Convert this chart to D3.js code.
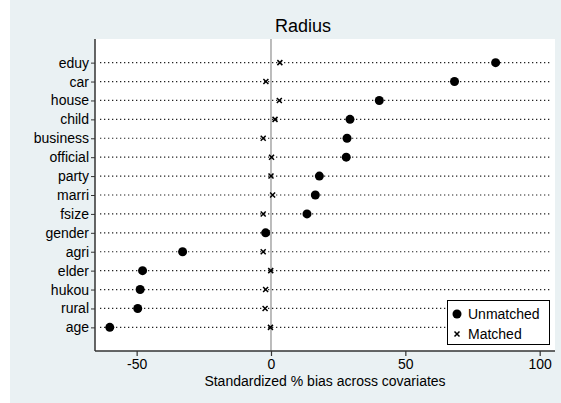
<!DOCTYPE html>
<html>
<head>
<meta charset="utf-8">
<script src="https://cdn.jsdelivr.net/npm/d3@7"></script>
<style>
  html, body { margin: 0; padding: 0; background: #ffffff; }
  svg { display: block; font-family: "Liberation Sans", Arial, Helvetica, sans-serif; }
</style>
</head>
<body>
<svg id="chart" width="561" height="403"></svg>
<script>
const categories = ["eduy","car","house","child","business","official","party","marri","fsize","gender","agri","elder","hukou","rural","age"];
const unmatched = [83.6, 68.3, 40.3, 29.4, 28.3, 28.0, 18.0, 16.5, 13.4, -2.0, -32.9, -47.8, -48.7, -49.6, -60.0];
const matched   = [3.3, -1.9, 3.1, 1.5, -2.9, 0.2, 0.0, 0.6, -2.9, -1.5, -2.9, -0.1, -2.0, -2.2, -0.2];
const xTicks = [-50, 0, 50, 100];
const titleText = "Radius";
const xTitle = "Standardized % bias across covariates";
const legendLabels = ["Unmatched", "Matched"];

const svg = d3.select("#chart");
const W = 561, H = 403;
const plot = {left: 95, right: 555, top: 39, bottom: 351};

// backgrounds
svg.append("rect").attr("x", 0).attr("y", 0).attr("width", W).attr("height", H).attr("fill", "#ffffff");
svg.append("rect").attr("x", 10).attr("y", 0).attr("width", W - 10).attr("height", H).attr("fill", "#eaf1f3");
svg.append("rect").attr("x", plot.left).attr("y", plot.top)
  .attr("width", plot.right - plot.left).attr("height", plot.bottom - plot.top).attr("fill", "#ffffff");

const x = d3.scaleLinear().domain([-65.5, 105.7]).range([plot.left, plot.right]);
const y = d3.scalePoint().domain(categories).range([plot.top, plot.bottom]).padding(1.25);

// dotted guide lines
svg.append("g").selectAll("line").data(categories).join("line")
  .attr("x1", plot.left + 5).attr("x2", plot.right - 4)
  .attr("y1", d => y(d)).attr("y2", d => y(d))
  .attr("stroke", "#222").attr("stroke-width", 1.2)
  .attr("stroke-dasharray", "1.3,2.7");

// zero reference line
svg.append("line").attr("x1", x(0)).attr("x2", x(0))
  .attr("y1", plot.top).attr("y2", plot.bottom)
  .attr("stroke", "#a6a6a6").attr("stroke-width", 1.5);

// x axis
const xAxis = d3.axisBottom(x).tickValues(xTicks).tickSize(5).tickPadding(3)
  .tickFormat(d => d < 0 ? "-" + Math.abs(d) : String(d));
const gx = svg.append("g").attr("transform", `translate(0,${plot.bottom})`).call(xAxis);
gx.select(".domain").attr("d", `M${plot.left},0H${plot.right}`).attr("stroke", "#333").attr("stroke-width", 1.3);
gx.selectAll(".tick line").attr("stroke", "#333").attr("stroke-width", 1.2);
gx.selectAll(".tick text").attr("fill", "#000").attr("font-size", 14)
  .attr("font-family", '"Liberation Sans", Arial, sans-serif');

// y axis
const yAxis = d3.axisLeft(y).tickSize(4).tickPadding(2);
const gy = svg.append("g").attr("transform", `translate(${plot.left},0)`).call(yAxis);
gy.select(".domain").attr("d", `M0,${plot.top}V${plot.bottom}`).attr("stroke", "#333").attr("stroke-width", 1.5);
gy.selectAll(".tick line").attr("stroke", "#333").attr("stroke-width", 1);
gy.selectAll(".tick text").attr("fill", "#000").attr("font-size", 14)
  .attr("font-family", '"Liberation Sans", Arial, sans-serif');

// matched markers (x)
const cross = d3.symbol().type(d3.symbolX).size(18);
svg.append("g").selectAll("path").data(categories).join("path")
  .attr("d", cross)
  .attr("transform", (d, i) => `translate(${x(matched[i])},${y(d)})`)
  .attr("fill", "none").attr("stroke", "#000").attr("stroke-width", 1.5);

// unmatched markers (dots)
svg.append("g").selectAll("circle").data(categories).join("circle")
  .attr("cx", (d, i) => x(unmatched[i])).attr("cy", d => y(d))
  .attr("r", 4.5).attr("fill", "#000");

// title
svg.append("text").attr("x", 303).attr("y", 32).attr("text-anchor", "middle")
  .attr("font-size", 18).attr("fill", "#000").text(titleText);

// x axis title
svg.append("text").attr("x", 325).attr("y", 386).attr("text-anchor", "middle")
  .attr("font-size", 14).attr("fill", "#000").text(xTitle);

// legend
const lg = svg.append("g");
lg.append("rect").attr("x", 447.5).attr("y", 300.5).attr("width", 102).attr("height", 44)
  .attr("fill", "#ffffff").attr("stroke", "#000").attr("stroke-width", 1);
lg.append("circle").attr("cx", 457).attr("cy", 314).attr("r", 4.5).attr("fill", "#000");
lg.append("path").attr("d", cross).attr("transform", "translate(457,334)")
  .attr("fill", "none").attr("stroke", "#000").attr("stroke-width", 1.5);
lg.append("text").attr("x", 468).attr("y", 319).attr("font-size", 14).attr("fill", "#000").text(legendLabels[0]);
lg.append("text").attr("x", 468).attr("y", 339).attr("font-size", 14).attr("fill", "#000").text(legendLabels[1]);
</script>
</body>
</html>
